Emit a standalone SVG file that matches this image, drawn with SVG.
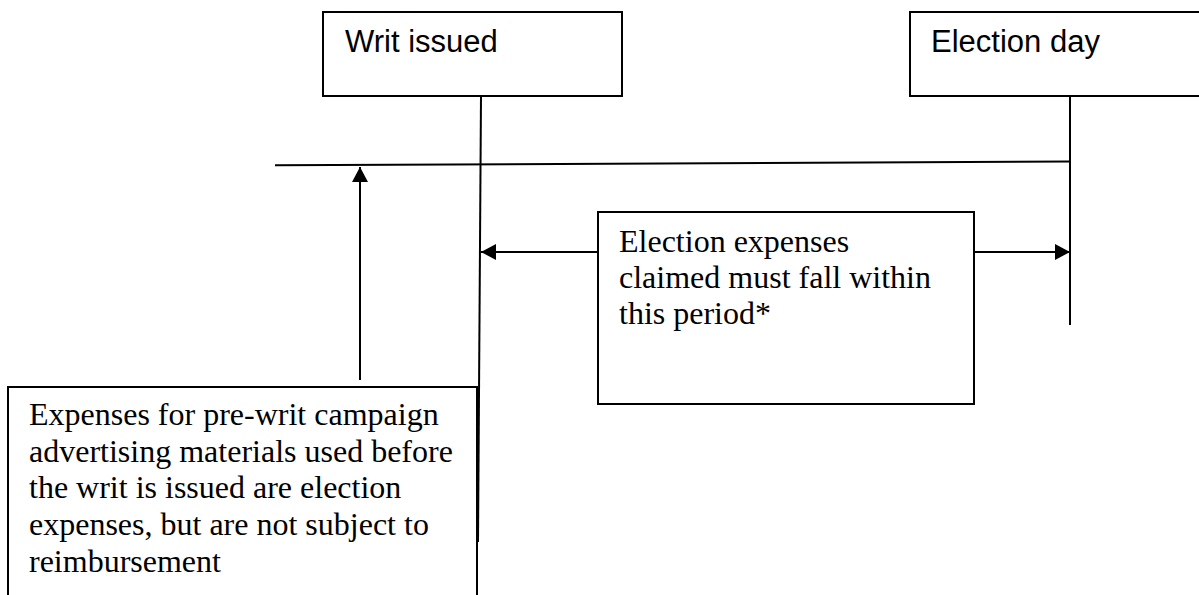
<svg xmlns="http://www.w3.org/2000/svg" width="1199" height="595" viewBox="0 0 1199 595">
<style>
.box{fill:#fff;stroke:#000;stroke-width:2}
.ln{stroke:#000;stroke-width:2;fill:none}
.sans{font-family:"Liberation Sans",Arial,sans-serif;font-size:31px;fill:#000}
.serif{font-family:"Liberation Serif","Times New Roman",serif;font-size:32px;fill:#000}
</style>
<defs>
<marker id="ah" viewBox="0 0 15 16" refX="15" refY="8" markerWidth="15" markerHeight="16" markerUnits="userSpaceOnUse" orient="auto">
<path d="M0,0 L15,8 L0,16 Z" fill="#000"/>
</marker>
</defs>
<rect width="1199" height="595" fill="#fff"/>
<g id="connectors">
<line class="ln" x1="275" y1="165.3" x2="1070" y2="161.5"/>
<line class="ln" x1="481" y1="96" x2="478" y2="542"/>
<line class="ln" x1="1070" y1="96" x2="1070" y2="325"/>
<line class="ln" x1="360" y1="380" x2="360" y2="167" marker-end="url(#ah)"/>
<line class="ln" x1="598" y1="252" x2="481" y2="252" marker-end="url(#ah)"/>
<line class="ln" x1="974" y1="252" x2="1070" y2="252" marker-end="url(#ah)"/>
</g>
<g id="writ">
<rect class="box" x="323" y="12" width="299" height="84"/>
<text class="sans" x="345" y="52">Writ issued</text>
</g>
<g id="election">
<rect class="box" x="910" y="12" width="300" height="84"/>
<text class="sans" x="931" y="52">Election day</text>
</g>
<g id="period">
<rect class="box" x="598" y="212" width="376" height="192"/>
<text class="serif" x="619" y="252">Election expenses</text>
<text class="serif" x="619" y="288">claimed must fall within</text>
<text class="serif" x="619" y="324">this period*</text>
</g>
<g id="prewrit">
<rect class="box" x="8" y="387" width="469" height="220"/>
<text class="serif" x="29" y="425">Expenses for pre-writ campaign</text>
<text class="serif" x="29" y="462">advertising materials used before</text>
<text class="serif" x="29" y="498">the writ is issued are election</text>
<text class="serif" x="29" y="535">expenses, but are not subject to</text>
<text class="serif" x="29" y="572">reimbursement</text>
</g>
</svg>
